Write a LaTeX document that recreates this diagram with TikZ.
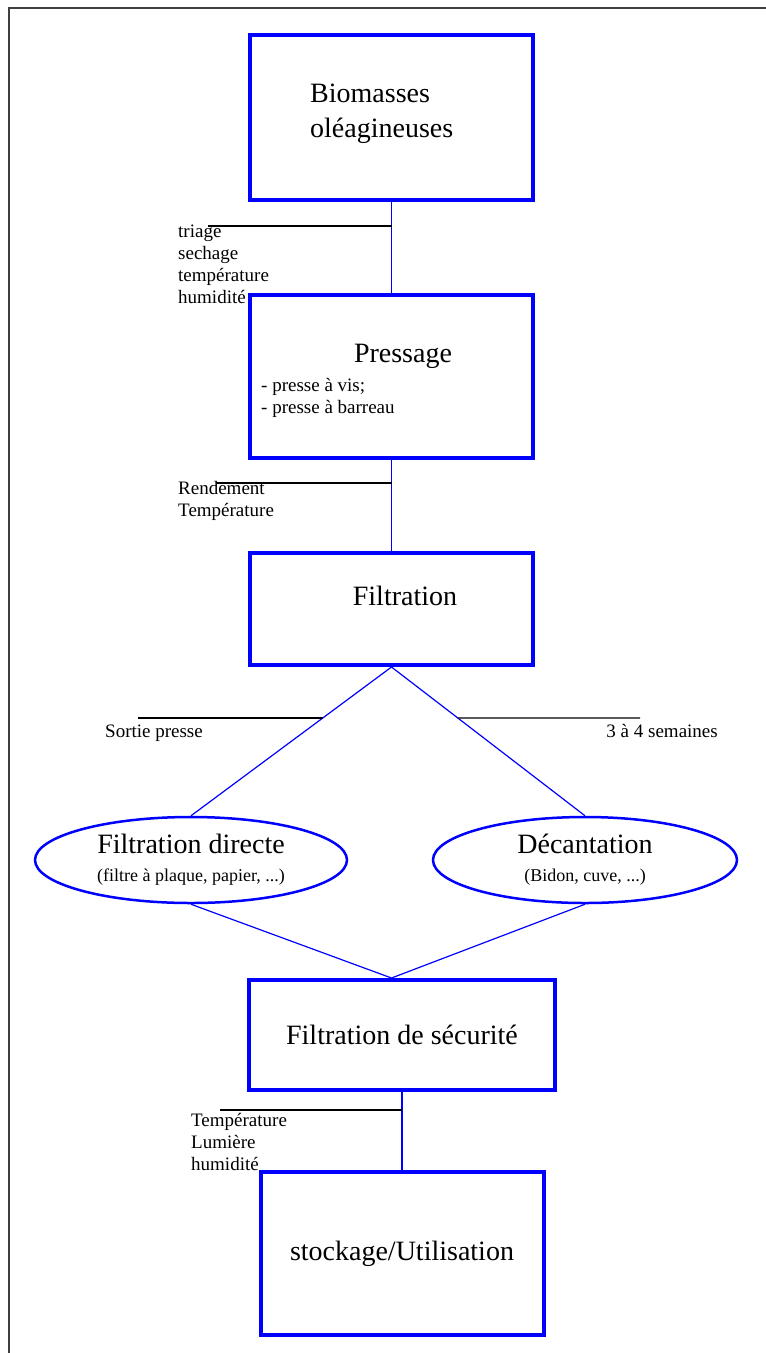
\documentclass[tikz,border=0pt]{standalone}
\usepackage{fontspec}
\setmainfont{Liberation Serif}
\usepackage{tikz}
\usetikzlibrary{positioning,shapes.geometric}
\newcommand{\titre}{\fontsize{28}{35}\selectfont}
\newcommand{\texte}{\fontsize{19}{22}\selectfont}
\newcommand{\sous}{\fontsize{18}{22}\selectfont}

\begin{document}
\begin{tikzpicture}[x=1pt,y=-1pt,font=\texte]
  \tikzstyle{etape}=[draw=blue,line width=4pt,minimum width=283pt,inner sep=0pt,align=center,font=\titre]
  \tikzstyle{choix}=[draw=blue,line width=2.5pt,ellipse,inner sep=0pt,align=center,font=\titre]
  \tikzstyle{lien}=[blue,line width=1.8pt]
  \tikzstyle{branche}=[blue,line width=1.2pt]
  \tikzstyle{trait}=[black,line width=1.4pt]
  \tikzstyle{note}=[anchor=base west,inner sep=0pt,align=left]
  \useasboundingbox (0,0) rectangle (766,1353);
  % cadre
  \draw[black!75,line width=2pt] (9,1353) -- (9,8) -- (766,8);
  % etapes
  \node[etape,minimum height=165pt] (bio) at (391.5,117.5) {};
  \node[note,font=\titre] (biot) at (310,137) {Biomasses\\oléagineuses};
  \node[etape,minimum height=163pt] (pres) at (391.5,376.5) {};
  \node[font=\titre,anchor=base] (prest) at (403,362) {Pressage};
  \node[note] (presl) at (261,413) {- presse à vis;\\- presse à barreau};
  \node[etape,minimum height=112pt] (filt) at (391.5,609) {};
  \node[font=\titre,anchor=base] (filtt) at (405,605) {Filtration};
  \node[choix,minimum width=312pt,minimum height=86pt] (dir) at (191,860) {Filtration directe\\[-7pt]{\sous (filtre à plaque, papier, ...)}};
  \node[choix,minimum width=304pt,minimum height=86pt] (dec) at (585,860) {Décantation\\[-7pt]{\sous (Bidon, cuve, ...)}};
  \node[etape,minimum width=306pt,minimum height=110pt] (secu) at (402,1035) {Filtration de sécurité};
  \node[etape,minimum height=163pt] (stock) at (402,1253.5) {stockage/Utilisation};
  % liens
  \coordinate (jonction) at (filt.south |- secu.north);
  \draw[lien] (bio) -- (pres);
  \draw[lien] (pres) -- (filt);
  \draw[branche] (filt.south) -- (dir.north);
  \draw[branche] (filt.south) -- (dec.north);
  \draw[branche] (dir.south) -- (jonction) -- (dec.south);
  \draw[lien] (secu) -- (stock);
  % parametres
  \coordinate (p1) at (208,226);
  \draw[trait] (p1) -- (p1 -| bio.south);
  \node[note] (p1t) at (178,303) {triage\\sechage\\température\\humidité};
  \coordinate (p2) at (217,483);
  \draw[trait] (p2) -- (p2 -| pres.south);
  \node[note] (p2t) at (178,516) {Rendement\\Température};
  \coordinate (g) at (138,718);
  \coordinate (d) at (640,718);
  \draw[trait] (g) -- (intersection of filt.south--dir.north and g--d);
  \draw[trait] (intersection of filt.south--dec.north and g--d) -- (d);
  \node[note] (gt) at (105,737) {Sortie presse};
  \node[note,anchor=base east] (dt) at (718,737) {3 à 4 semaines};
  \coordinate (p3) at (220,1110);
  \draw[trait] (p3) -- (p3 -| secu.south);
  \node[note] (p3t) at (191,1170) {Température\\Lumière\\humidité};
\end{tikzpicture}
\end{document}
